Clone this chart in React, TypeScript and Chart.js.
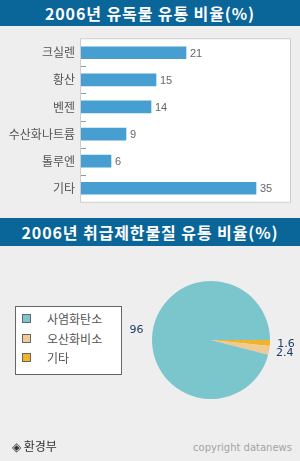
import React, { useEffect, useRef } from 'react';
import { Chart, registerables } from 'chart.js';

Chart.register(...registerables);

const barTitle = '2006년 유독물 유통 비율(%)';
const barCategories = ['크실렌', '황산', '벤젠', '수산화나트륨', '톨루엔', '기타'];
const barValues = [21, 15, 14, 9, 6, 35];

const pieTitle = '2006년 취급제한물질 유통 비율(%)';
const pieLabels = ['사염화탄소', '오산화비소', '기타'];
const pieValues = [96, 2.4, 1.6];
const pieColors = ['#7bc5cd', '#f1c992', '#f0b526'];

const KR = '"Noto Sans CJK KR", "Noto Sans", sans-serif';

export default function App() {
  const barRef = useRef<HTMLCanvasElement | null>(null);
  const pieRef = useRef<HTMLCanvasElement | null>(null);

  useEffect(() => {
    const boxPlugin = {
      id: 'box',
      beforeDraw(chart: any) {
        const { ctx, chartArea: a } = chart;
        ctx.save();
        ctx.fillStyle = '#ffffff';
        ctx.fillRect(a.left - 1, a.top - 1, a.right - a.left + 2, a.bottom - a.top + 2);
        ctx.strokeStyle = '#cccccc';
        ctx.lineWidth = 1;
        ctx.strokeRect(a.left - 0.5, a.top - 0.5, a.right - a.left + 1, a.bottom - a.top + 1);
        ctx.restore();
      },
    };
    const tickPlugin = {
      id: 'innerTicks',
      afterDatasetsDraw(chart: any) {
        const { ctx, chartArea: a } = chart;
        const ys = chart.scales.y;
        ctx.save();
        ctx.strokeStyle = '#999999';
        ctx.lineWidth = 1;
        for (let i = 1; i < barCategories.length; i++) {
          const y = Math.round((ys.getPixelForValue(i - 1) + ys.getPixelForValue(i)) / 2) + 0.5;
          ctx.beginPath();
          ctx.moveTo(a.left, y);
          ctx.lineTo(a.left + 5, y);
          ctx.stroke();
        }
        ctx.restore();
      },
    };
    const valuePlugin = {
      id: 'values',
      afterDatasetsDraw(chart: any) {
        const { ctx } = chart;
        const meta = chart.getDatasetMeta(0);
        ctx.save();
        ctx.fillStyle = '#666666';
        ctx.font = '11px "Liberation Sans", sans-serif';
        ctx.textAlign = 'left';
        ctx.textBaseline = 'middle';
        meta.data.forEach((bar: any, i: number) => {
          ctx.fillText(String(barValues[i]), bar.x + 4, bar.y + 1);
        });
        ctx.restore();
      },
    };

    const bar = new Chart(barRef.current as HTMLCanvasElement, {
      type: 'bar',
      data: {
        labels: barCategories,
        datasets: [
          {
            data: barValues,
            backgroundColor: '#479fd1',
            barThickness: 12,
          },
        ],
      },
      options: {
        indexAxis: 'y',
        animation: false,
        responsive: false,
        maintainAspectRatio: false,
        layout: { padding: { top: 10, bottom: 10, right: 10, left: 0 } },
        plugins: { legend: { display: false }, tooltip: { enabled: false } },
        scales: {
          x: { display: false, min: 0, max: 41.8 },
          y: {
            afterFit: (s: any) => {
              s.width = 81;
            },
            grid: { display: false, drawTicks: false },
            border: { display: false },
            ticks: { color: '#555555', font: { family: KR, size: 12 }, padding: 6 },
          },
        },
      } as any,
      plugins: [boxPlugin, tickPlugin, valuePlugin],
    });

    const pieLabelPlugin = {
      id: 'pieLabels',
      afterDatasetsDraw(chart: any) {
        const { ctx } = chart;
        const meta = chart.getDatasetMeta(0);
        const vals = chart.data.datasets[0].data as number[];
        ctx.save();
        ctx.fillStyle = '#1d3d66';
        ctx.font = '11px "DejaVu Sans", sans-serif';
        ctx.textAlign = 'center';
        ctx.textBaseline = 'middle';
        meta.data.forEach((arc: any, i: number) => {
          const mid = (arc.startAngle + arc.endAngle) / 2;
          const r = arc.outerRadius + 16;
          ctx.fillText(String(vals[i]), arc.x + Math.cos(mid) * r, arc.y + Math.sin(mid) * r);
        });
        ctx.restore();
      },
    };

    const pie = new Chart(pieRef.current as HTMLCanvasElement, {
      type: 'pie',
      data: {
        labels: [...pieLabels].reverse(),
        datasets: [
          {
            data: [...pieValues].reverse(),
            backgroundColor: [...pieColors].reverse(),
            borderWidth: 0,
          },
        ],
      },
      options: {
        animation: false,
        responsive: false,
        maintainAspectRatio: false,
        rotation: 90,
        layout: { padding: { left: 41, right: 30, top: 21, bottom: 21 } },
        plugins: { legend: { display: false }, tooltip: { enabled: false } },
      } as any,
      plugins: [pieLabelPlugin],
    });

    return () => {
      bar.destroy();
      pie.destroy();
    };
  }, []);

  const titleStyle = (top: number, height: number): React.CSSProperties => ({
    position: 'absolute',
    left: 0,
    top,
    width: 300,
    height,
    lineHeight: height + 'px',
    background: '#0a6599',
    color: '#ffffff',
    fontFamily: KR,
    fontWeight: 'bold',
    fontSize: 16,
    letterSpacing: '0.9px',
    textAlign: 'center',
    whiteSpace: 'nowrap',
  });

  return (
    <div
      style={{
        position: 'absolute',
        left: 0,
        top: 0,
        width: 300,
        height: 461,
        background: '#eeeeee',
        overflow: 'hidden',
      }}
    >
      <div style={titleStyle(0, 26)}>{barTitle}</div>
      <canvas
        ref={barRef}
        width={300}
        height={189}
        style={{ position: 'absolute', left: 0, top: 26, width: 300, height: 189 }}
      />
      <div style={titleStyle(218, 28)}>{pieTitle}</div>
      <canvas
        ref={pieRef}
        width={189}
        height={160}
        style={{ position: 'absolute', left: 111, top: 260, width: 189, height: 160 }}
      />
      <div
        style={{
          position: 'absolute',
          left: 15,
          top: 306,
          width: 105,
          height: 67,
          border: '1px solid #666666',
          background: '#ffffff',
        }}
      >
        {pieLabels.map((lab, i) => (
          <div
            key={lab}
            style={{ position: 'absolute', left: 0, top: 3 + i * 19.5, height: 18, width: 105 }}
          >
            <div
              style={{
                position: 'absolute',
                left: 6,
                top: 4,
                width: 7,
                height: 7,
                border: '1px solid #666666',
                background: pieColors[i],
              }}
            />
            <div
              style={{
                position: 'absolute',
                left: 31,
                top: 0,
                lineHeight: '18px',
                fontFamily: KR,
                fontSize: 12,
                color: '#555555',
                whiteSpace: 'nowrap',
              }}
            >
              {lab}
            </div>
          </div>
        ))}
      </div>
      <div
        style={{
          position: 'absolute',
          left: 12,
          top: 437,
          lineHeight: '18px',
          fontFamily: KR,
          fontSize: 12,
          color: '#333333',
          whiteSpace: 'nowrap',
        }}
      >
        ◈ 환경부
      </div>
      <div
        style={{
          position: 'absolute',
          right: 8,
          top: 440,
          lineHeight: '16px',
          fontFamily: '"DejaVu Sans", sans-serif',
          fontSize: 10,
          color: '#a3a3a3',
          whiteSpace: 'nowrap',
        }}
      >
        copyright datanews
      </div>
    </div>
  );
}
